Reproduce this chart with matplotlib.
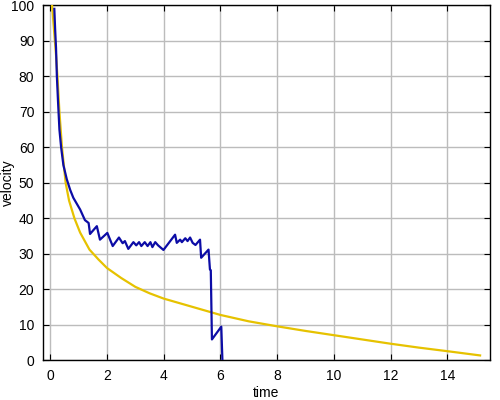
#velocity vs time

#import the libraries
import matplotlib
matplotlib.use('Agg')
import matplotlib.pyplot as plt

plt.rcParams['font.family'] = ['Liberation Sans', 'DejaVu Sans']

#data
t_model = [0.05, 0.14, 0.20, 0.25, 0.32, 0.41, 0.54, 0.66, 0.85, 1.05, 1.38, 1.7, 2.0, 2.5, 3.0,
           3.5, 4.0, 5.0, 6.0, 7.0, 8.0, 9.0, 10.0, 11.0, 12.0, 13.0, 14.0, 15.16]
v_model = [101, 92, 86, 80, 70, 60, 50, 45, 40, 36, 31.2, 28.4, 26, 23.2, 20.7,
           18.9, 17.4, 15.1, 12.8, 11.0, 9.6, 8.3, 7.1, 5.9, 4.7, 3.6, 2.6, 1.4]

t_sim = [0.14, 0.17, 0.20, 0.23, 0.27, 0.32, 0.38, 0.46, 0.58, 0.70, 0.81, 1.05, 1.22,
         1.35, 1.40, 1.64, 1.75, 2.01, 2.20, 2.42, 2.55, 2.63, 2.75, 2.93, 3.03, 3.13,
         3.21, 3.33, 3.43, 3.53, 3.60, 3.70, 3.80, 3.99, 4.40, 4.46, 4.58, 4.64, 4.76,
         4.84, 4.93, 5.02, 5.12, 5.28, 5.32, 5.58, 5.63, 5.66, 5.70, 6.03, 6.07]
v_sim = [99, 93, 88, 80, 73, 65, 60, 55, 51, 48, 45.8, 42.5, 39.5,
         38.7, 35.6, 37.8, 34.0, 35.9, 32.2, 34.6, 33.0, 33.6, 31.4, 33.3, 32.4, 33.3,
         32.2, 33.3, 32.2, 33.3, 31.9, 33.3, 32.4, 31.1, 35.4, 33.1, 34.0, 33.3, 34.4,
         33.6, 34.6, 33.1, 32.5, 34.0, 28.9, 31.2, 25.6, 25.4, 5.9, 9.5, 0]

#plotting
fig = plt.figure(figsize=(5, 4), dpi=100)
ax = fig.add_axes([0.0854, 0.099, 0.8946, 0.8878])

ax.plot(t_model, v_model, color='#e6c200', linewidth=1.6, zorder=3)
ax.plot(t_sim, v_sim, color='#0c0ca6', linewidth=1.6, zorder=4)

ax.set_xlim(-0.27, 15.51)
ax.set_ylim(0, 100)
ax.set_xticks(range(0, 15, 2))
ax.set_yticks(range(0, 101, 10))
ax.grid(True, color='#bcbcbc', linewidth=1)
ax.set_axisbelow(True)
ax.tick_params(direction='in', length=4, top=True, right=True, labelsize=10, pad=6)
for s in ax.spines.values():
    s.set_linewidth(1)

ax.set_xlabel('time', fontsize=10, labelpad=2)
ax.set_ylabel('velocity', fontsize=10, va='center')
ax.yaxis.set_label_coords(-0.077, 0.5)

fig.savefig('out.png', dpi=100)
